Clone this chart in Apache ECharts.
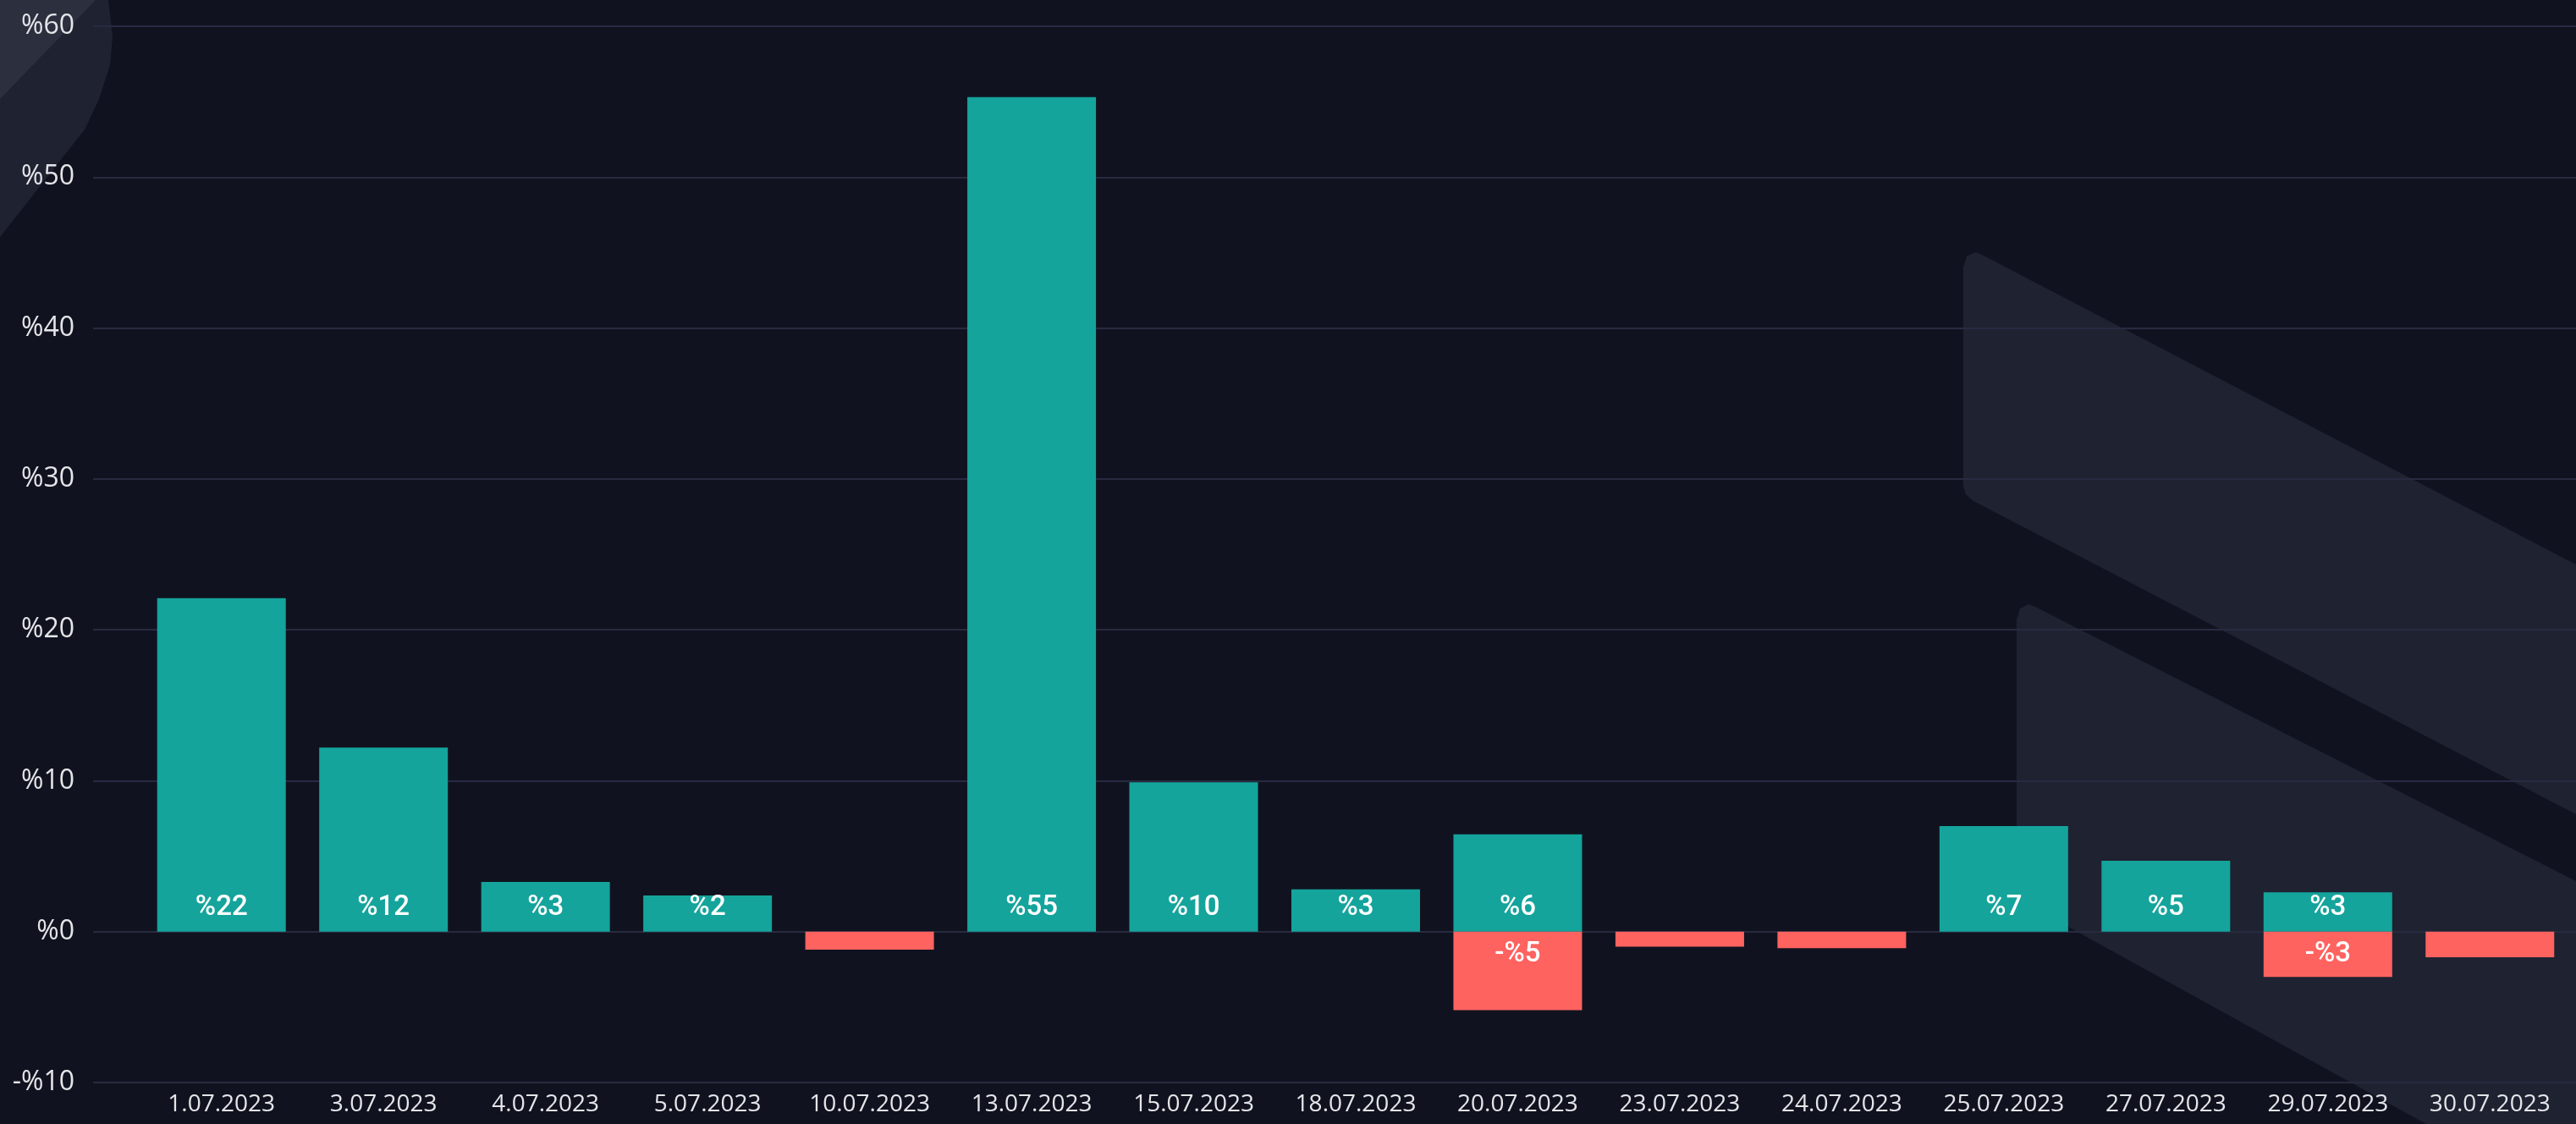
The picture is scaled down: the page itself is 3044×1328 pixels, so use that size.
<!DOCTYPE html>
<html lang="en">

<head>
    <meta charset="UTF-8">
    <title>Document</title>
    <script src="https://cdn.jsdelivr.net/npm/echarts@6.0.0/dist/echarts.min.js"></script>
    <style>
        html, body { margin: 0; padding: 0; background: #10131f; }
    </style>
</head>

<body>
    <div id="main" style="width: 3044px; height: 1328px;"></div>
    <script>
        var dates = ['1.07.2023', '3.07.2023', '4.07.2023', '5.07.2023', '10.07.2023', '13.07.2023', '15.07.2023',
            '18.07.2023', '20.07.2023', '23.07.2023', '24.07.2023', '25.07.2023', '27.07.2023', '29.07.2023', '30.07.2023'];
        var gains = [22.1, 12.2, 3.3, 2.4, null, 55.3, 9.9, 2.8, 6.45, null, null, 7.0, 4.7, 2.6, null];
        var losses = [null, null, null, null, -1.2, null, null, null, -5.2, -1.0, -1.1, null, null, -3.0, -1.7];
        var yTicks = { min: -10, max: 60, step: 10 };

        var chartDom = document.getElementById('main');
        var myChart = echarts.init(chartDom);
        var option;

        function pct(v) {
            return v < 0 ? '-%' + Math.round(-v) : '%' + Math.round(v);
        }

        function barLabel(p) {
            // small bars have no room for the text
            if (p.value == null || Math.abs(p.value) < 2) return '';
            return pct(p.value);
        }

        var shapeColor = '#1f2231';

        option = {
            backgroundColor: '#10131f',
            animation: false,
            graphic: [
                {
                    type: 'polygon', z: -10, silent: true,
                    shape: {
                        points: [[0, 0], [128, 0], [133, 43], [130, 77], [117, 117], [100, 153], [0, 280]]
                    },
                    style: { fill: shapeColor }
                },
                {
                    type: 'polygon', z: -9, silent: true,
                    shape: { points: [[0, 0], [113, 0], [0, 117]] },
                    style: { fill: '#2c2f3e' }
                },
                {
                    type: 'polygon', z: -10, silent: true,
                    shape: {
                        points: [[2320, 316], [2324, 303], [2334, 298], [2342, 301], [3044, 667],
                            [3044, 962], [2332, 592], [2323, 584], [2320, 574]]
                    },
                    style: { fill: shapeColor }
                },
                {
                    type: 'polygon', z: -10, silent: true,
                    shape: {
                        points: [[2383, 732], [2387, 719], [2397, 714], [2405, 717], [3044, 1041],
                            [3044, 1328], [2867, 1328], [2395, 1068], [2386, 1060], [2383, 1048]]
                    },
                    style: { fill: shapeColor }
                }
            ],
            grid: [
                { left: 110, right: 0, top: 31, bottom: 49 },
                { left: 166, right: 6, top: 31, bottom: 49 }
            ],
            xAxis: [
                { type: 'value', gridIndex: 0, show: false },
                {
                    type: 'category', gridIndex: 1, data: dates,
                    axisLine: { show: false },
                    axisTick: { show: false },
                    axisLabel: {
                        color: '#e4e5e9', fontSize: 28, fontFamily: 'Open Sans', margin: 12
                    }
                }
            ],
            yAxis: [
                {
                    type: 'value', gridIndex: 0,
                    min: yTicks.min, max: yTicks.max, interval: yTicks.step,
                    axisLine: { show: false },
                    axisTick: { show: false },
                    splitLine: { lineStyle: { color: '#282a40', width: 2 } },
                    axisLabel: {
                        color: '#e4e5e9', fontSize: 32, fontFamily: 'Open Sans', margin: 22,
                        formatter: pct
                    }
                },
                {
                    type: 'value', gridIndex: 1,
                    min: yTicks.min, max: yTicks.max, interval: yTicks.step,
                    show: false, splitLine: { show: false }
                }
            ],
            series: [
                {
                    type: 'bar', xAxisIndex: 1, yAxisIndex: 1,
                    data: gains, barWidth: 152, barGap: '-100%',
                    itemStyle: { color: '#14a49c' },
                    label: {
                        show: true, position: 'insideBottom', distance: 11,
                        color: '#ffffff', fontSize: 33, fontWeight: 500, fontFamily: 'Roboto',
                        formatter: barLabel
                    }
                },
                {
                    type: 'bar', xAxisIndex: 1, yAxisIndex: 1,
                    data: losses, barWidth: 152, barGap: '-100%',
                    itemStyle: { color: '#fe6360' },
                    label: {
                        show: true, position: 'insideTop', distance: 11,
                        color: '#ffffff', fontSize: 33, fontWeight: 500, fontFamily: 'Roboto',
                        formatter: barLabel
                    }
                }
            ]
        };

        option && myChart.setOption(option);
        window.addEventListener('resize', function () {
            myChart.resize();
        });
    </script>
</body>

</html>
